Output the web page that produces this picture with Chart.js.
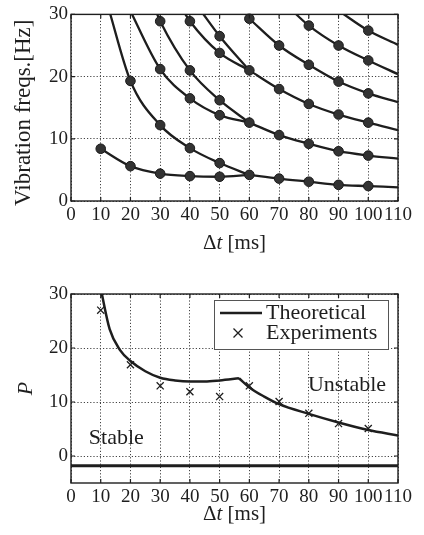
<!DOCTYPE html>
<html>
<head>
<meta charset="utf-8">
<script src="https://cdn.jsdelivr.net/npm/chart.js@4.4.0/dist/chart.umd.min.js"></script>
<style>
  html, body { margin: 0; padding: 0; background: #fff; }
  #wrap { position: relative; width: 424px; height: 535px; }
  .box { position: absolute; left: 0; width: 424px; }
  #topBox { top: 0; height: 262px; }
  #botBox { top: 268px; height: 267px; }
</style>
</head>
<body>
<div id="wrap">
  <div class="box" id="topBox"><canvas id="freqChart"></canvas></div>
  <div class="box" id="botBox"><canvas id="stabChart"></canvas></div>
</div>
<script>
// tick values
const dtTicks = [0, 10, 20, 30, 40, 50, 60, 70, 80, 90, 100, 110];
const freqTicks = [0, 10, 20, 30];
const pTicks = [0, 10, 20, 30];

// top chart: vibration frequency branches, [dt ms, Hz]
const branch1 = [[10, 8.4], [20, 5.6], [30, 4.4], [40, 4.0], [50, 3.9], [60, 4.2]];
const branch1b = [[60, 4.2], [70, 3.6], [80, 3.1], [90, 2.6], [100, 2.4], [110, 2.2]];
const branch2 = [[12.5, 31.2], [20, 19.3], [30, 12.2], [40, 8.5], [50, 6.1], [60, 4.2]];
const branch3 = [[19, 31.5], [30, 21.2], [40, 16.5], [50, 13.8], [60, 12.6]];
const branch4 = [[28.5, 30.6], [30, 28.9], [40, 21.0], [50, 16.2], [60, 12.6]];
const branch34b = [[60, 12.6], [70, 10.6], [80, 9.2], [90, 8.0], [100, 7.3], [110, 6.8]];
const branch5 = [[38, 30.4], [40, 28.9], [50, 23.8], [60, 21.0]];
const branch6 = [[43.5, 30.7], [50, 26.5], [60, 21.0]];
const branch56b = [[60, 21.0], [70, 18.0], [80, 15.6], [90, 13.9], [100, 12.6], [110, 11.4]];
const branch7 = [[60, 29.3], [70, 25.0], [80, 21.9], [90, 19.2], [100, 17.3], [110, 15.9]];
const branch8 = [[74, 30.8], [80, 28.2], [90, 25.0], [100, 22.6], [110, 20.4]];
const branch9 = [[90, 30.6], [100, 27.4], [110, 25.1]];

// bottom chart: stability limit P
const theoryDt1 = [10, 13, 16.5, 20, 25, 30, 35, 40, 45, 50, 56.5];
const theoryP1 = [31.0, 23.5, 19.6, 17.6, 15.7, 14.5, 14.0, 13.8, 13.8, 14.0, 14.4];
const theoryDt2 = [56.5, 60, 65, 70, 80, 90, 100, 110];
const theoryP2 = [14.4, 12.7, 11.0, 9.6, 7.8, 6.2, 4.8, 3.8];
const boundaryDt = [0, 110];
const boundaryP = [-1.8, -1.8];
const expDt = [10, 20, 30, 40, 50, 60, 70, 80, 90, 100];
const expP = [27.0, 16.9, 13.0, 11.9, 11.0, 13.0, 10.1, 7.9, 6.0, 5.1];

const serif = "'Liberation Serif', 'Times New Roman', serif";
const ink = '#1e1e1e';

const pairs = arr => arr.map(p => ({ x: p[0], y: p[1] }));
const zip = (xs, ys) => xs.map((x, i) => ({ x: x, y: ys[i] }));

// measured dots = branch points on the 10 ms grid inside the plot
const branches = [branch1, branch1b, branch2, branch3, branch4, branch34b,
  branch5, branch6, branch56b, branch7, branch8, branch9];
const dotMap = {};
branches.forEach(b => b.forEach(p => {
  if (p[0] % 10 === 0 && p[0] >= 10 && p[0] <= 100 && p[1] <= 30) dotMap[p[0] + '_' + p[1]] = p;
}));
const freqDots = Object.values(dotMap);

function drawParts(ctx, parts, cx, cy) {
  let total = 0;
  parts.forEach(p => { ctx.font = p.font; p.w = ctx.measureText(p.text).width; total += p.w; });
  let x = cx - total / 2;
  parts.forEach(p => { ctx.font = p.font; ctx.fillText(p.text, x, cy); x += p.w; });
}

const fN = '21px ' + serif;
const fI = 'italic 21px ' + serif;
const noteFont = '22px ' + serif;

// frame with inward ticks, axis titles, notes and legend
function makeDecor(cfg) {
  return {
    id: 'decor',
    afterDatasetsDraw(chart) {
      const { ctx, chartArea: a, scales: { x, y } } = chart;
      ctx.save();
      ctx.strokeStyle = ink;
      ctx.lineWidth = 1.2;
      ctx.beginPath();
      x.ticks.forEach(t => {
        const px = x.getPixelForValue(t.value);
        ctx.moveTo(px, a.bottom); ctx.lineTo(px, a.bottom - 4);
        ctx.moveTo(px, a.top); ctx.lineTo(px, a.top + 4);
      });
      y.ticks.forEach(t => {
        const py = y.getPixelForValue(t.value);
        ctx.moveTo(a.left, py); ctx.lineTo(a.left + 4, py);
        ctx.moveTo(a.right, py); ctx.lineTo(a.right - 4, py);
      });
      ctx.stroke();
      ctx.lineWidth = 1.4;
      ctx.strokeRect(a.left, a.top, a.right - a.left, a.bottom - a.top);

      ctx.fillStyle = ink;
      ctx.textBaseline = 'middle';
      ctx.textAlign = 'left';
      drawParts(ctx, [{ text: 'Δ', font: fN }, { text: 't', font: fI }, { text: ' [ms]', font: fN }],
        (a.left + a.right) / 2, a.bottom + cfg.xTitleGap);

      ctx.save();
      ctx.translate(cfg.yTitleX, (a.top + a.bottom) / 2 + cfg.yTitleShift);
      ctx.rotate(-Math.PI / 2);
      drawParts(ctx, cfg.yTitle, 0, 0);
      ctx.restore();

      ctx.font = noteFont;
      (cfg.notes || []).forEach(n => {
        ctx.fillText(n.text, x.getPixelForValue(n.x), y.getPixelForValue(n.y));
      });

      if (cfg.legend) {
        const lx = a.right - 184, ly = a.top + 6, lw = 174, lh = 49;
        ctx.fillStyle = '#fff';
        ctx.fillRect(lx, ly, lw, lh);
        ctx.strokeStyle = '#555';
        ctx.lineWidth = 1;
        ctx.strokeRect(lx + 0.5, ly + 0.5, lw, lh);
        chart.data.datasets.filter(d => d.label).forEach((d, i) => {
          const cy = ly + 13 + i * 20;
          ctx.strokeStyle = ink;
          if (d.showLine === false) {
            const r = 4.5, cx = lx + 24;
            ctx.lineWidth = 1.3;
            ctx.beginPath();
            ctx.moveTo(cx - r, cy - r); ctx.lineTo(cx + r, cy + r);
            ctx.moveTo(cx - r, cy + r); ctx.lineTo(cx + r, cy - r);
            ctx.stroke();
          } else {
            ctx.lineWidth = d.borderWidth;
            ctx.beginPath();
            ctx.moveTo(lx + 6, cy); ctx.lineTo(lx + 48, cy);
            ctx.stroke();
          }
          ctx.fillStyle = ink;
          ctx.font = noteFont;
          ctx.fillText(d.label, lx + 52, cy);
        });
      }
      ctx.restore();
    }
  };
}

function axisOpts(min, max, ticks, extra) {
  return Object.assign({
    type: 'linear', min: min, max: max,
    afterBuildTicks: s => { s.ticks = ticks.map(v => ({ value: v })); },
    ticks: { color: ink, font: { family: serif, size: 19 }, maxRotation: 0, autoSkip: false },
    grid: { color: '#444', lineWidth: 1, drawTicks: false },
    border: { display: false, dash: [1.2, 2] }
  }, extra);
}

function lineSet(data, w) {
  return {
    data: data, borderColor: ink, borderWidth: w || 2.3, pointRadius: 0,
    fill: false, cubicInterpolationMode: 'monotone', order: 1
  };
}

const topSets = [{
  type: 'scatter', data: pairs(freqDots), showLine: false, clip: false, order: 0,
  pointRadius: 4.8, pointBackgroundColor: '#333', pointBorderColor: '#1a1a1a', pointBorderWidth: 1
}].concat(branches.map(b => lineSet(pairs(b))));

new Chart(document.getElementById('freqChart'), {
  type: 'line',
  data: { datasets: topSets },
  options: {
    responsive: true, maintainAspectRatio: false, animation: false,
    layout: { padding: { top: 12, right: 26, left: 0, bottom: 0 } },
    plugins: { legend: { display: false }, tooltip: { enabled: false } },
    scales: {
      x: axisOpts(0, 110, dtTicks, { afterFit: s => { s.height = 61; } }),
      y: axisOpts(0, 30, freqTicks, { afterFit: s => { s.width = 71; } })
    }
  },
  plugins: [makeDecor({
    xTitleGap: 42, yTitleX: 24, yTitleShift: 5,
    yTitle: [{ text: 'Vibration freqs.[Hz]', font: '23px ' + serif }]
  })]
});

const botSets = [
  Object.assign(lineSet(zip(theoryDt1, theoryP1), 2.5), { label: 'Theoretical' }),
  {
    label: 'Experiments', type: 'scatter', data: zip(expDt, expP), showLine: false, clip: false, order: 0,
    pointStyle: 'crossRot', pointRadius: 5, pointBorderColor: ink, pointBorderWidth: 1.3
  },
  lineSet(zip(theoryDt2, theoryP2), 2.5),
  lineSet(zip(boundaryDt, boundaryP), 3)
];

new Chart(document.getElementById('stabChart'), {
  type: 'line',
  data: { datasets: botSets },
  options: {
    responsive: true, maintainAspectRatio: false, animation: false,
    layout: { padding: { top: 26, right: 26, left: 0, bottom: 0 } },
    plugins: { legend: { display: false }, tooltip: { enabled: false } },
    scales: {
      x: axisOpts(0, 110, dtTicks, { afterFit: s => { s.height = 52; } }),
      y: axisOpts(-5, 30, pTicks, { afterFit: s => { s.width = 71; } })
    }
  },
  plugins: [makeDecor({
    xTitleGap: 31, yTitleX: 26, yTitleShift: 0,
    yTitle: [{ text: 'P', font: 'italic 22px ' + serif }],
    notes: [{ text: 'Stable', x: 6, y: 3.3 }, { text: 'Unstable', x: 79.7, y: 13.1 }],
    legend: true
  })]
});
</script>
</body>
</html>
